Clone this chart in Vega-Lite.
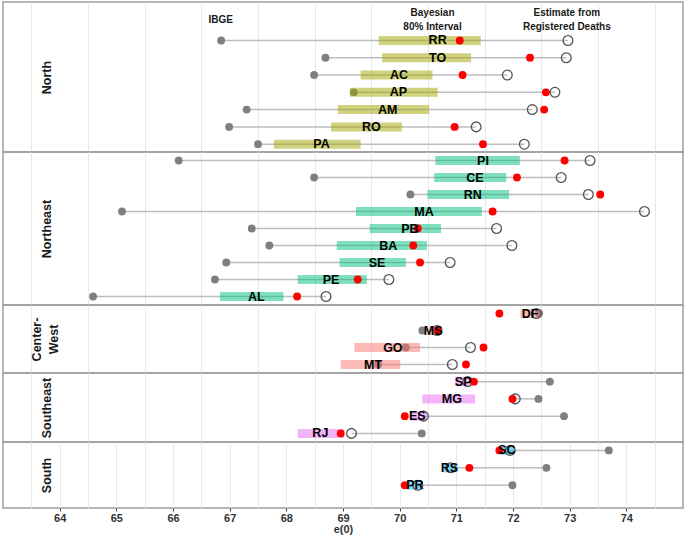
{
  "$schema": "https://vega.github.io/schema/vega-lite/v6.json",
  "padding": {"left": 2, "top": 1, "right": 3, "bottom": 0},
  "spacing": 0,
  "bounds": "flush",
  "config": {
    "font": "Liberation Sans",
    "concat": {"spacing": 0},
    "view": {"stroke": "#9e9e9e", "strokeWidth": 1.5},
    "axisY": {"labels": false, "ticks": false, "domain": false, "grid": false, "titleX": 43, "titleBaseline": "middle", "titleFontSize": 12.5, "titleFontWeight": "bold", "titleColor": "#1a1a1a", "titleAngle": -90, "minExtent": 0},
    "axisX": {"gridColor": "#e8e8e8", "gridWidth": 1, "domain": false, "minExtent": 0},
    "text": {"lineBreak": "\n"}
  },
  "datasets": {
    "north": [
      {"state": "RR", "region": "North", "ibge": 66.85, "lo": 69.63, "hi": 71.43, "med": 70.67, "red": 71.06, "reg": 72.97},
      {"state": "TO", "region": "North", "ibge": 68.69, "lo": 69.69, "hi": 71.26, "med": 70.67, "red": 72.30, "reg": 72.94},
      {"state": "AC", "region": "North", "ibge": 68.49, "lo": 69.31, "hi": 70.58, "med": 69.99, "red": 71.11, "reg": 71.90},
      {"state": "AP", "region": "North", "ibge": 69.19, "lo": 69.12, "hi": 70.67, "med": 69.98, "red": 72.58, "reg": 72.74},
      {"state": "AM", "region": "North", "ibge": 67.30, "lo": 68.91, "hi": 70.52, "med": 69.79, "red": 72.55, "reg": 72.34},
      {"state": "RO", "region": "North", "ibge": 66.99, "lo": 68.79, "hi": 70.04, "med": 69.50, "red": 70.97, "reg": 71.35},
      {"state": "PA", "region": "North", "ibge": 67.50, "lo": 67.78, "hi": 69.31, "med": 68.62, "red": 71.47, "reg": 72.20}
    ],
    "notes1": [
      {"state": "_h", "x": 66.84, "label": "IBGE"}
    ],
    "notes2": [
      {"state": "_h", "x": 70.58, "label": "Bayesian\n80% Interval"},
      {"state": "_h", "x": 72.95, "label": "Estimate from\nRegistered Deaths"}
    ],
    "northeast": [
      {"state": "PI", "region": "Northeast", "ibge": 66.10, "lo": 70.63, "hi": 72.12, "med": 71.47, "red": 72.91, "reg": 73.36},
      {"state": "CE", "region": "Northeast", "ibge": 68.49, "lo": 70.61, "hi": 71.88, "med": 71.33, "red": 72.07, "reg": 72.85},
      {"state": "RN", "region": "Northeast", "ibge": 70.19, "lo": 70.49, "hi": 71.93, "med": 71.29, "red": 73.54, "reg": 73.33},
      {"state": "MA", "region": "Northeast", "ibge": 65.10, "lo": 69.23, "hi": 71.45, "med": 70.43, "red": 71.64, "reg": 74.32},
      {"state": "PB", "region": "Northeast", "ibge": 67.39, "lo": 69.47, "hi": 70.73, "med": 70.18, "red": 70.32, "reg": 71.71},
      {"state": "BA", "region": "Northeast", "ibge": 67.70, "lo": 68.89, "hi": 70.48, "med": 69.80, "red": 70.24, "reg": 71.98},
      {"state": "SE", "region": "Northeast", "ibge": 66.94, "lo": 68.94, "hi": 70.11, "med": 69.60, "red": 70.36, "reg": 70.89},
      {"state": "PE", "region": "Northeast", "ibge": 66.74, "lo": 68.20, "hi": 69.42, "med": 68.79, "red": 69.26, "reg": 69.81},
      {"state": "AL", "region": "Northeast", "ibge": 64.59, "lo": 66.83, "hi": 67.95, "med": 67.47, "red": 68.19, "reg": 68.70}
    ],
    "centerwest": [
      {"state": "DF", "region": "Center-West", "ibge": 72.46, "lo": 72.13, "hi": 72.50, "med": 72.30, "red": 71.76, "reg": 72.41},
      {"state": "MS", "region": "Center-West", "ibge": 70.40, "lo": 70.52, "hi": 70.70, "med": 70.59, "red": 70.67, "reg": 70.66},
      {"state": "GO", "region": "Center-West", "ibge": 70.11, "lo": 69.20, "hi": 70.36, "med": 69.88, "red": 71.48, "reg": 71.25},
      {"state": "MT", "region": "Center-West", "ibge": 69.62, "lo": 68.96, "hi": 70.01, "med": 69.53, "red": 71.17, "reg": 70.93}
    ],
    "southeast": [
      {"state": "SP", "region": "Southeast", "ibge": 72.65, "lo": 70.98, "hi": 71.25, "med": 71.12, "red": 71.31, "reg": 71.20},
      {"state": "MG", "region": "Southeast", "ibge": 72.45, "lo": 70.40, "hi": 71.33, "med": 70.92, "red": 71.99, "reg": 72.04},
      {"state": "ES", "region": "Southeast", "ibge": 72.90, "lo": 70.20, "hi": 70.48, "med": 70.31, "red": 70.09, "reg": 70.42},
      {"state": "RJ", "region": "Southeast", "ibge": 70.39, "lo": 68.20, "hi": 69.01, "med": 68.60, "red": 68.96, "reg": 69.15}
    ],
    "south": [
      {"state": "SC", "region": "South", "ibge": 73.69, "lo": 71.80, "hi": 72.03, "med": 71.89, "red": 71.76, "reg": 71.95},
      {"state": "RS", "region": "South", "ibge": 72.59, "lo": 70.76, "hi": 71.02, "med": 70.88, "red": 71.23, "reg": 70.90},
      {"state": "PR", "region": "South", "ibge": 71.99, "lo": 70.13, "hi": 70.40, "med": 70.27, "red": 70.09, "reg": 70.32}
    ]
  },
  "vconcat": [
    {
      "width": 680, "height": 150,
      "data": {"name": "north"},
      "encoding": {
        "y": {"field": "state", "type": "nominal", "scale": {"type": "point", "domain": ["_h", "RR", "TO", "AC", "AP", "AM", "RO", "PA"], "padding": 0.84, "align": 0.73}, "axis": {"title": "North"}}
      },
      "layer": [
        {"mark": {"type": "rule", "color": "#bdbdbd", "strokeWidth": 1.5}, "encoding": {"x": {"field": "ibge", "type": "quantitative", "scale": {"domain": [63, 75], "nice": false, "zero": false}, "axis": {"values": [63.5, 64, 64.5, 65, 65.5, 66, 66.5, 67, 67.5, 68, 68.5, 69, 69.5, 70, 70.5, 71, 71.5, 72, 72.5, 73, 73.5, 74, 74.5], "title": null, "labels": false, "ticks": false, "grid": true}}, "x2": {"field": "reg"}}},
        {"mark": {"type": "circle", "color": "#7f7f7f", "size": 62, "opacity": 1}, "encoding": {"x": {"field": "ibge", "type": "quantitative"}}},
        {"mark": {"type": "rule", "strokeWidth": 9, "opacity": 0.5, "strokeCap": "butt"}, "encoding": {"x": {"field": "lo", "type": "quantitative"}, "x2": {"field": "hi"}, "color": {"field": "region", "type": "nominal", "scale": {"domain": ["Center-West", "North", "Northeast", "South", "Southeast"], "range": ["#F8766D", "#A3A500", "#00BF7D", "#00B0F6", "#E76BF3"]}, "legend": null}}},
        {"mark": {"type": "point", "shape": "circle", "filled": false, "stroke": "#555555", "strokeWidth": 1.3, "size": 95, "opacity": 1}, "encoding": {"x": {"field": "reg", "type": "quantitative"}}},
        {"mark": {"type": "circle", "color": "#ff0000", "size": 62, "opacity": 1}, "encoding": {"x": {"field": "red", "type": "quantitative"}}},
        {"mark": {"type": "text", "fontSize": 12.5, "fontWeight": "bold", "color": "#000000"}, "encoding": {"x": {"field": "med", "type": "quantitative"}, "text": {"field": "state"}}},
        {"data": {"name": "notes1"}, "mark": {"type": "text", "fontSize": 10, "fontWeight": "bold", "color": "#1a1a1a", "dy": -3}, "encoding": {"x": {"field": "x", "type": "quantitative"}, "text": {"field": "label"}}},
        {"data": {"name": "notes2"}, "mark": {"type": "text", "fontSize": 10, "fontWeight": "bold", "color": "#1a1a1a", "lineHeight": 14.5, "dy": -10.5}, "encoding": {"x": {"field": "x", "type": "quantitative"}, "text": {"field": "label"}}}
      ]
    },
    {
      "width": 680, "height": 153,
      "data": {"name": "northeast"},
      "encoding": {
        "y": {"field": "state", "type": "nominal", "scale": {"type": "point", "domain": ["PI", "CE", "RN", "MA", "PB", "BA", "SE", "PE", "AL"], "padding": 0.5}, "axis": {"title": "Northeast"}}
      },
      "layer": [
        {"mark": {"type": "rule", "color": "#bdbdbd", "strokeWidth": 1.5}, "encoding": {"x": {"field": "ibge", "type": "quantitative", "scale": {"domain": [63, 75], "nice": false, "zero": false}, "axis": {"values": [63.5, 64, 64.5, 65, 65.5, 66, 66.5, 67, 67.5, 68, 68.5, 69, 69.5, 70, 70.5, 71, 71.5, 72, 72.5, 73, 73.5, 74, 74.5], "title": null, "labels": false, "ticks": false, "grid": true}}, "x2": {"field": "reg"}}},
        {"mark": {"type": "circle", "color": "#7f7f7f", "size": 62, "opacity": 1}, "encoding": {"x": {"field": "ibge", "type": "quantitative"}}},
        {"mark": {"type": "rule", "strokeWidth": 9, "opacity": 0.5, "strokeCap": "butt"}, "encoding": {"x": {"field": "lo", "type": "quantitative"}, "x2": {"field": "hi"}, "color": {"field": "region", "type": "nominal", "scale": {"domain": ["Center-West", "North", "Northeast", "South", "Southeast"], "range": ["#F8766D", "#A3A500", "#00BF7D", "#00B0F6", "#E76BF3"]}, "legend": null}}},
        {"mark": {"type": "point", "shape": "circle", "filled": false, "stroke": "#555555", "strokeWidth": 1.3, "size": 95, "opacity": 1}, "encoding": {"x": {"field": "reg", "type": "quantitative"}}},
        {"mark": {"type": "circle", "color": "#ff0000", "size": 62, "opacity": 1}, "encoding": {"x": {"field": "red", "type": "quantitative"}}},
        {"mark": {"type": "text", "fontSize": 12.5, "fontWeight": "bold", "color": "#000000"}, "encoding": {"x": {"field": "med", "type": "quantitative"}, "text": {"field": "state"}}}
      ]
    },
    {
      "width": 680, "height": 68,
      "data": {"name": "centerwest"},
      "encoding": {
        "y": {"field": "state", "type": "nominal", "scale": {"type": "point", "domain": ["DF", "MS", "GO", "MT"], "padding": 0.5}, "axis": {"title": ["Center-", "West"], "titleLineHeight": 17, "titleX": 33}}
      },
      "layer": [
        {"mark": {"type": "rule", "color": "#bdbdbd", "strokeWidth": 1.5}, "encoding": {"x": {"field": "ibge", "type": "quantitative", "scale": {"domain": [63, 75], "nice": false, "zero": false}, "axis": {"values": [63.5, 64, 64.5, 65, 65.5, 66, 66.5, 67, 67.5, 68, 68.5, 69, 69.5, 70, 70.5, 71, 71.5, 72, 72.5, 73, 73.5, 74, 74.5], "title": null, "labels": false, "ticks": false, "grid": true}}, "x2": {"field": "reg"}}},
        {"mark": {"type": "circle", "color": "#7f7f7f", "size": 62, "opacity": 1}, "encoding": {"x": {"field": "ibge", "type": "quantitative"}}},
        {"mark": {"type": "rule", "strokeWidth": 9, "opacity": 0.5, "strokeCap": "butt"}, "encoding": {"x": {"field": "lo", "type": "quantitative"}, "x2": {"field": "hi"}, "color": {"field": "region", "type": "nominal", "scale": {"domain": ["Center-West", "North", "Northeast", "South", "Southeast"], "range": ["#F8766D", "#A3A500", "#00BF7D", "#00B0F6", "#E76BF3"]}, "legend": null}}},
        {"mark": {"type": "point", "shape": "circle", "filled": false, "stroke": "#555555", "strokeWidth": 1.3, "size": 95, "opacity": 1}, "encoding": {"x": {"field": "reg", "type": "quantitative"}}},
        {"mark": {"type": "circle", "color": "#ff0000", "size": 62, "opacity": 1}, "encoding": {"x": {"field": "red", "type": "quantitative"}}},
        {"mark": {"type": "text", "fontSize": 12.5, "fontWeight": "bold", "color": "#000000"}, "encoding": {"x": {"field": "med", "type": "quantitative"}, "text": {"field": "state"}}}
      ]
    },
    {
      "width": 680, "height": 69,
      "data": {"name": "southeast"},
      "encoding": {
        "y": {"field": "state", "type": "nominal", "scale": {"type": "point", "domain": ["SP", "MG", "ES", "RJ"], "padding": 0.5}, "axis": {"title": "Southeast"}}
      },
      "layer": [
        {"mark": {"type": "rule", "color": "#bdbdbd", "strokeWidth": 1.5}, "encoding": {"x": {"field": "ibge", "type": "quantitative", "scale": {"domain": [63, 75], "nice": false, "zero": false}, "axis": {"values": [63.5, 64, 64.5, 65, 65.5, 66, 66.5, 67, 67.5, 68, 68.5, 69, 69.5, 70, 70.5, 71, 71.5, 72, 72.5, 73, 73.5, 74, 74.5], "title": null, "labels": false, "ticks": false, "grid": true}}, "x2": {"field": "reg"}}},
        {"mark": {"type": "circle", "color": "#7f7f7f", "size": 62, "opacity": 1}, "encoding": {"x": {"field": "ibge", "type": "quantitative"}}},
        {"mark": {"type": "rule", "strokeWidth": 9, "opacity": 0.5, "strokeCap": "butt"}, "encoding": {"x": {"field": "lo", "type": "quantitative"}, "x2": {"field": "hi"}, "color": {"field": "region", "type": "nominal", "scale": {"domain": ["Center-West", "North", "Northeast", "South", "Southeast"], "range": ["#F8766D", "#A3A500", "#00BF7D", "#00B0F6", "#E76BF3"]}, "legend": null}}},
        {"mark": {"type": "point", "shape": "circle", "filled": false, "stroke": "#555555", "strokeWidth": 1.3, "size": 95, "opacity": 1}, "encoding": {"x": {"field": "reg", "type": "quantitative"}}},
        {"mark": {"type": "circle", "color": "#ff0000", "size": 62, "opacity": 1}, "encoding": {"x": {"field": "red", "type": "quantitative"}}},
        {"mark": {"type": "text", "fontSize": 12.5, "fontWeight": "bold", "color": "#000000"}, "encoding": {"x": {"field": "med", "type": "quantitative"}, "text": {"field": "state"}}}
      ]
    },
    {
      "width": 680, "height": 66,
      "data": {"name": "south"},
      "resolve": {"axis": {"x": "independent"}},
      "encoding": {
        "y": {"field": "state", "type": "nominal", "scale": {"type": "point", "domain": ["SC", "RS", "PR"], "padding": 0.896, "align": 0.27}, "axis": {"title": "South"}}
      },
      "layer": [
        {"mark": {"type": "rule", "color": "#bdbdbd", "strokeWidth": 1.5}, "encoding": {"x": {"field": "ibge", "type": "quantitative", "scale": {"domain": [63, 75], "nice": false, "zero": false}, "axis": {"orient": "bottom", "values": [63.5, 64, 64.5, 65, 65.5, 66, 66.5, 67, 67.5, 68, 68.5, 69, 69.5, 70, 70.5, 71, 71.5, 72, 72.5, 73, 73.5, 74, 74.5], "title": null, "labels": false, "ticks": false, "grid": true}}, "x2": {"field": "reg"}}},
        {"mark": {"type": "circle", "color": "#7f7f7f", "size": 62, "opacity": 1}, "encoding": {"x": {"field": "ibge", "type": "quantitative", "axis": null}}},
        {"mark": {"type": "rule", "strokeWidth": 9, "opacity": 0.5, "strokeCap": "butt"}, "encoding": {"x": {"field": "lo", "type": "quantitative", "axis": null}, "x2": {"field": "hi"}, "color": {"field": "region", "type": "nominal", "scale": {"domain": ["Center-West", "North", "Northeast", "South", "Southeast"], "range": ["#F8766D", "#A3A500", "#00BF7D", "#00B0F6", "#E76BF3"]}, "legend": null}}},
        {"mark": {"type": "point", "shape": "circle", "filled": false, "stroke": "#555555", "strokeWidth": 1.3, "size": 95, "opacity": 1}, "encoding": {"x": {"field": "reg", "type": "quantitative", "axis": null}}},
        {"mark": {"type": "circle", "color": "#ff0000", "size": 62, "opacity": 1}, "encoding": {"x": {"field": "red", "type": "quantitative", "axis": null}}},
        {"mark": {"type": "text", "fontSize": 12.5, "fontWeight": "bold", "color": "#000000"}, "encoding": {"x": {"field": "med", "type": "quantitative", "axis": {"orient": "bottom", "values": [64, 65, 66, 67, 68, 69, 70, 71, 72, 73, 74], "format": "d", "grid": false, "labels": true, "ticks": true, "labelFontSize": 11, "labelFontWeight": "bold", "labelColor": "#333333", "labelPadding": 1, "tickSize": 3, "tickColor": "#333333", "title": "e(0)", "titleFontSize": 11, "titleFontWeight": "bold", "titleColor": "#333333", "titlePadding": 0}}, "text": {"field": "state"}}}
      ]
    }
  ]
}
